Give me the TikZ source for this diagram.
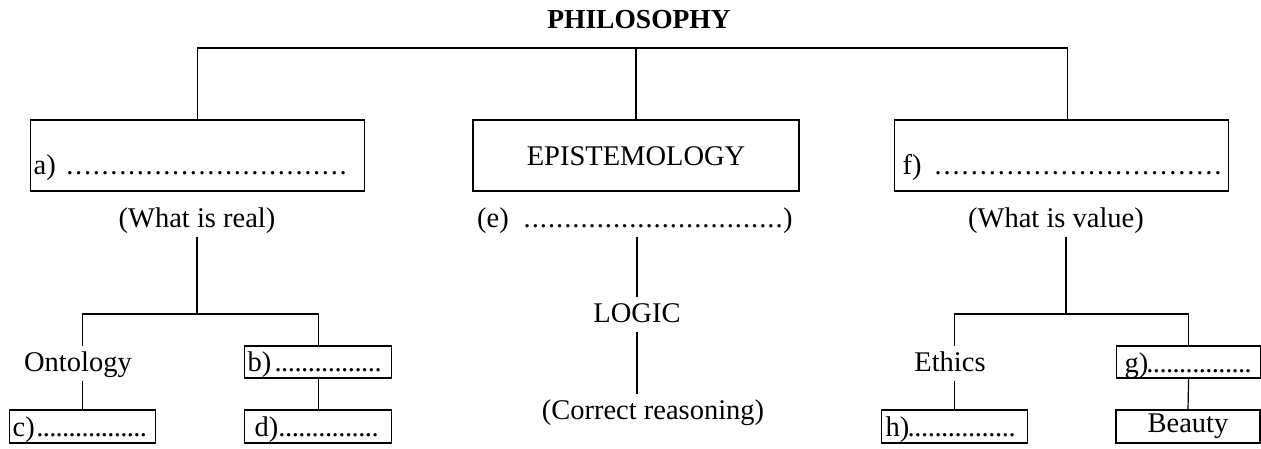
\documentclass[tikz,border=0pt]{standalone}
\usepackage{fontspec}
\setmainfont{Liberation Serif}
\newcommand\dotrow[2]{\hbox to #1{\xleaders\hbox to #2{\hss.\hss}\hfill}}
\tikzset{
  every node/.style={font=\fontsize{28.5}{32}\selectfont},
  ln/.style={line width=1.2pt},
  lbl/.style={inner xsep=2pt, inner ysep=3pt, text height=22pt, text depth=7pt, anchor=base},
  bx/.style={draw, line width=1.2pt, inner xsep=3pt, inner ysep=0pt, align=left, anchor=base west},
  bxc/.style={draw, line width=1.2pt, inner xsep=0pt, inner ysep=0pt, anchor=base},
}
\begin{document}
\begin{tikzpicture}[x=1pt,y=-1pt]
\path[use as bounding box] (0,0) rectangle (1261,448);
% title
\node[anchor=base, inner sep=0pt, font=\fontsize{27.5}{30}\selectfont\bfseries] (phil) at (639,28) {PHILOSOPHY};
\coordinate (bar) at (636,48);
% top row
\node[bx, text width=328pt, text height=54pt, text depth=17pt] (a) at (30,174)
  {\noindent\makebox[32pt][l]{a)}\dotrow{282pt}{8.8pt}};
\node[bxc, minimum width=326pt, text height=45pt, text depth=26pt] (epi) at (636,165) {EPISTEMOLOGY};
\node[bx, text width=328pt, text height=54pt, text depth=17pt] (f) at (894,174)
  {\noindent\hspace*{5pt}\makebox[31pt][l]{f)}\dotrow{289pt}{8.8pt}};
% second row labels
\node[lbl] (real) at (197,227) {(What is real)};
\node[lbl, anchor=base west, inner xsep=0pt] (elab) at (477,227)
  {\makebox[46pt][l]{(e)}\dotrow{260pt}{8.1pt})};
\node[lbl] (value) at (1056,227) {(What is value)};
% left subtree
\node[lbl] (onto) at (78,371) {Ontology};
\node[bx, text width=141pt, text height=25pt, text depth=7pt] (b) at (244,371)
  {\noindent\makebox[27pt][l]{b)}\dotrow{107pt}{6.4pt}};
\node[bx, text width=140pt, text height=26pt, text depth=7pt] (c) at (9,436)
  {\noindent\makebox[24pt][l]{c)}\dotrow{110pt}{6.4pt}};
\node[bx, text width=141pt, text height=26pt, text depth=7pt] (d) at (244,436)
  {\noindent\hspace*{7pt}\makebox[24pt][l]{d)}\dotrow{100pt}{6.4pt}};
% centre column
\node[lbl] (logic) at (637,322) {LOGIC};
\node[lbl] (corr) at (653,419) {(Correct reasoning)};
% right subtree
\node[lbl] (ethics) at (950,371) {Ethics};
\node[bx, text width=138pt, text height=26pt, text depth=6pt] (g) at (1116,372)
  {\noindent\hspace*{5pt}\makebox[22pt][l]{g)}\dotrow{105pt}{6.4pt}};
\node[bx, text width=140pt, text height=26pt, text depth=7pt] (h) at (881,436)
  {\noindent\hspace*{1pt}\makebox[22pt][l]{h)}\dotrow{108pt}{6.4pt}};
\node[bxc, minimum width=144pt, text height=22pt, text depth=11pt] (beauty) at (1188,432) {Beauty};
% connectors: top
\draw[ln] (a.north) |- (bar) -| ([xshift=6pt]f.north);
\draw[ln] (bar) -- (epi.north);
% left
\coordinate (lj) at (197,314);
\draw[ln] (real.south) -- (lj);
\draw[ln] (onto.north -| c.north) |- (lj) -| (b.north);
\draw[ln] (onto.south -| c.north) -- (c.north);
\draw[ln] (b.south) -- (d.north);
% centre
\draw[ln] (elab.south -| logic.north) -- (logic.north);
\draw[ln] (logic.south) -- (logic.south |- corr.north);
% right
\coordinate (rj) at (1066,314);
\draw[ln] (value.south -| rj) -- (rj);
\draw[ln] (ethics.north -| h.north) |- (rj) -| (g.north);
\draw[ln] (ethics.south -| h.north) -- (h.north);
\draw[ln] (g.south) -- (beauty.north);
\end{tikzpicture}
\end{document}
